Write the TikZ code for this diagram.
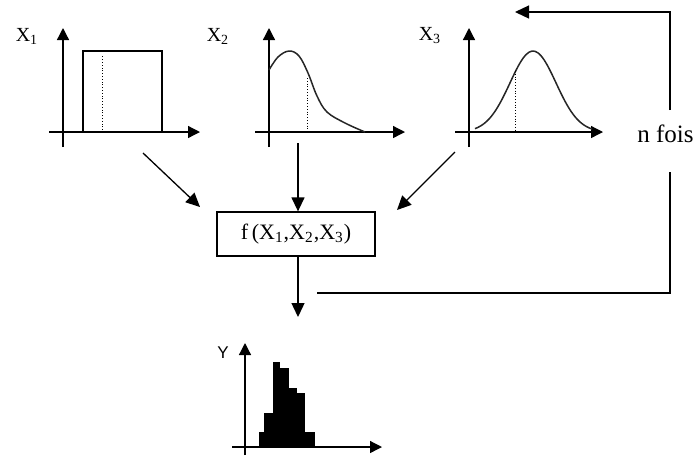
\documentclass[tikz,border=0pt]{standalone}
\usepackage{fontspec}
\setmainfont{Liberation Serif}
\newfontfamily\arialfont{Liberation Sans}
\usetikzlibrary{arrows.meta, positioning, calc}

\begin{document}
\begin{tikzpicture}[x=0.5pt, y=-0.5pt,
		axis/.style={line width=0.65pt, -{Triangle[length=6pt, width=6pt]}},
		flow/.style={line width=0.65pt, -{Triangle[length=7pt, width=6.5pt]}},
		loopline/.style={line width=0.65pt},
		guide/.style={densely dotted, line width=0.4pt},
		curve/.style={line width=0.75pt, black!85},
		varlabel/.style={font=\fontsize{10}{12}\selectfont}]
	\useasboundingbox (0,0) rectangle (695,457);
	% X1 : loi uniforme
	\draw[axis] (63,147) -- (63,28);
	\draw[axis] (49,132) -- (200,132);
	\draw[line width=0.65pt] (83,132) rectangle (162,51);
	\draw[guide] (102,130) -- (102,55);
	\node[varlabel] (lx1) at (27,36) {X\textsubscript{1}};
	% X2 : loi dissymetrique
	\draw[axis] (269,147) -- (269,28);
	\draw[axis] (255,132) -- (405,132);
	\draw[curve] plot[smooth, tension=0.6] coordinates {(269,70) (278,57) (289,51) (299,56) (308,73) (317,96) (327,112) (345,123) (365,132)};
	\draw[guide] (307,78) -- (307,130);
	\node[varlabel] (lx2) at (218,36) {X\textsubscript{2}};
	% X3 : loi normale
	\draw[axis] (469,147) -- (469,28);
	\draw[axis] (455,132) -- (603,132);
	\draw[curve] plot[smooth, domain=475:592, samples=40] (\x, {132-81*exp(-0.5*((\x-533)/23)^2)});
	\draw[guide] (515,71) -- (515,130);
	\node[varlabel] (lx3) at (430,36) {X\textsubscript{3}};
	% modele
	\node[draw, line width=0.65pt, minimum width=79pt, minimum height=22pt,
		font=\fontsize{11}{13}\selectfont] (func) at (296,234) {f\,(X\textsubscript{1},X\textsubscript{2},X\textsubscript{3})\hspace{8pt}};
	\coordinate (s1) at (143,153);
	\coordinate (t1) at (200,207);
	\coordinate (s2) at (298,143);
	\coordinate (s3) at (455,152);
	\coordinate (t3) at (397,210);
	\draw[flow] (s1) -- (t1);
	\draw[flow] (s2) -- (s2 |- func.north);
	\draw[flow] (s3) -- (t3);
	\coordinate (yin) at (298,317);
	\draw[flow] (func.south -| yin) -- (yin);
	% boucle
	\node[font=\fontsize{12.5}{15}\selectfont, anchor=west, inner sep=1pt] (nfois) at (635,134) {n fois};
	\coordinate (lt) at (670,110);
	\coordinate (lend) at (515,12);
	\coordinate (lb) at (670,172);
	\coordinate (lstart) at (317,293);
	\draw[loopline, -{Triangle[length=7pt, width=6.5pt]}] (lt) |- (lend);
	\draw[loopline] (lstart) -| (lb);
	% Y : histogramme
	\foreach \a/\b/\h in {259/264/432, 264/273/413, 273/280/362, 280/289/368, 289/297/388, 297/305/393, 305/315/432}
		\fill (\a,448) rectangle (\b,\h);
	\draw[axis] (245,455) -- (245,343);
	\draw[axis] (232,447) -- (382,447);
	\node[font=\arialfont\fontsize{8.5}{10}\selectfont] (ly) at (223,353) {Y};
\end{tikzpicture}
\end{document}
